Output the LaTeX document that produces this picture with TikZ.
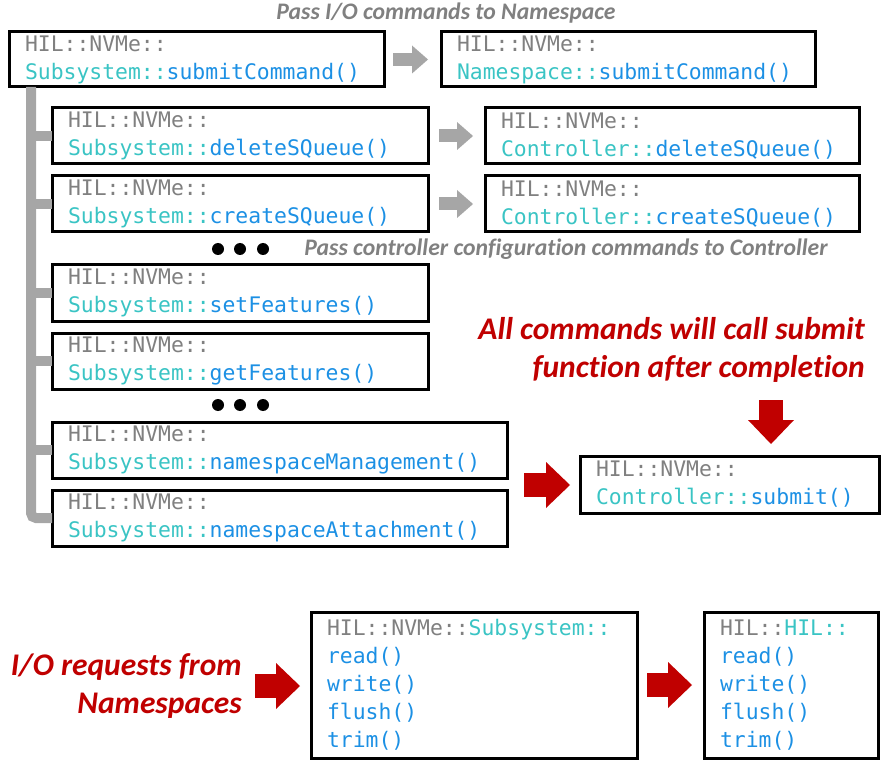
\documentclass[tikz,border=0pt]{standalone}
\usepackage{fontspec}
\setmonofont{DejaVu Sans Mono}
\newfontfamily\notefont[Ligatures=NoCommon]{Carlito}
\usepackage{tikz}
\usetikzlibrary{arrows.meta}
\definecolor{hilgray}{RGB}{128,128,128}
\definecolor{hilteal}{RGB}{58,196,196}
\definecolor{hilblue}{RGB}{28,144,228}
\definecolor{arrowgray}{RGB}{166,166,166}
\definecolor{hilred}{RGB}{192,0,0}
\newcommand{\nvmepre}{\textcolor{hilgray}{HIL::NVMe::}}
\newcommand{\clsname}[1]{\textcolor{hilteal}{#1::}}
\newcommand{\fnname}[1]{\textcolor{hilblue}{#1()}}

\begin{document}
\begin{tikzpicture}[
    x=1pt, y=-1pt,
    codebox/.style={draw, line width=3pt, anchor=north west, outer sep=0pt,
      inner xsep=16pt, inner ysep=0pt, align=left,
      font=\ttfamily\fontsize{21.4}{28}\selectfont},
    note/.style={inner sep=0pt, text=hilgray, font=\notefont\bfseries\itshape\fontsize{23.7}{28}\selectfont},
    rednote/.style={inner sep=0pt, align=right, text=hilred, font=\notefont\bfseries\itshape\fontsize{31.5}{38}\selectfont},
    grayarr/.style={draw=arrowgray, line width=13pt, -{Triangle[length=16pt,width=28pt,line width=0pt]}},
    redarr/.style={draw=hilred, line width=24pt, -{Triangle[length=24pt,width=46pt,line width=0pt]}},
    bar/.style={draw=arrowgray, line width=10pt, rounded corners=5pt}
    ]
    \useasboundingbox (0,0) rectangle (894,767);
    % commands passed to the namespace
    \node[note] (ionote) at (446,13) {Pass I/O commands to Namespace};
    \node[codebox, minimum width=375pt, minimum height=55pt, text width=343pt] (subcmd) at (9,32)
      {\nvmepre\\\clsname{Subsystem}\fnname{submitCommand}};
    \node[codebox, minimum width=374pt, minimum height=55pt, text width=342pt] (nscmd) at (441,32)
      {\nvmepre\\\clsname{Namespace}\fnname{submitCommand}};
    % subsystem handlers
    \node[codebox, minimum width=376pt, minimum height=56pt, text width=344pt] (subdel) at (52,108)
      {\nvmepre\\\clsname{Subsystem}\fnname{deleteSQueue}};
    \node[codebox, minimum width=376pt, minimum height=56pt, text width=344pt] (subcre) at (52,176)
      {\nvmepre\\\clsname{Subsystem}\fnname{createSQueue}};
    \node[codebox, minimum width=376pt, minimum height=56pt, text width=344pt] (subset) at (52,265)
      {\nvmepre\\\clsname{Subsystem}\fnname{setFeatures}};
    \node[codebox, minimum width=376pt, minimum height=56pt, text width=344pt] (subget) at (52,333)
      {\nvmepre\\\clsname{Subsystem}\fnname{getFeatures}};
    \node[codebox, minimum width=455pt, minimum height=56pt, text width=423pt] (submgmt) at (52,422)
      {\nvmepre\\\clsname{Subsystem}\fnname{namespaceManagement}};
    \node[codebox, minimum width=455pt, minimum height=56pt, text width=423pt] (subatt) at (52,490)
      {\nvmepre\\\clsname{Subsystem}\fnname{namespaceAttachment}};
    % controller handlers
    \node[codebox, minimum width=374pt, minimum height=56pt, text width=342pt] (ctldel) at (485,108)
      {\nvmepre\\\clsname{Controller}\fnname{deleteSQueue}};
    \node[codebox, minimum width=374pt, minimum height=56pt, text width=342pt] (ctlcre) at (485,176)
      {\nvmepre\\\clsname{Controller}\fnname{createSQueue}};
    \node[note] (ctlnote) at (566,249) {Pass controller configuration commands to Controller};
    \node[codebox, minimum width=299pt, minimum height=57pt, text width=267pt] (ctlsub) at (580,456)
      {\nvmepre\\\clsname{Controller}\fnname{submit}};
    \node[rednote, anchor=east] (subnote) at (865,350)
      {All commands will call submit\\function after completion};
    % I/O path
    \node[rednote, anchor=east] (ioreq) at (242,686) {I/O requests from\\Namespaces};
    \node[codebox, minimum width=326pt, minimum height=146pt, text width=294pt] (subio) at (311,612)
      {\nvmepre\clsname{Subsystem}\\\fnname{read}\\\fnname{write}\\\fnname{flush}\\\fnname{trim}};
    \node[codebox, minimum width=174pt, minimum height=146pt, text width=142pt] (hilio) at (704,612)
      {\textcolor{hilgray}{HIL::}\clsname{HIL}\\\fnname{read}\\\fnname{write}\\\fnname{flush}\\\fnname{trim}};
    % dots
    \foreach \dx in {218,240,263} {
      \fill (\dx,249) circle (6pt);
      \fill (\dx,405) circle (6pt);
    }
    % tree bar
    \coordinate (barx) at (31,0);
    \draw[bar] (barx |- subcmd.south) |- (subatt.west);
    \foreach \n in {subdel,subcre,subset,subget,submgmt}
      \draw[bar] (barx |- \n.west) -- (\n.west);
    % arrows
    \draw[grayarr, shorten <=9pt, shorten >=13pt] (subcmd) -- (nscmd);
    \draw[grayarr, shorten <=11pt, shorten >=12pt] (subdel) -- (ctldel);
    \draw[grayarr, shorten <=11pt, shorten >=12pt] (subcre) -- (ctlcre);
    \coordinate (mgmtout) at (524,485);
    \draw[redarr, shorten >=10pt] (mgmtout) -- (mgmtout -| ctlsub.west);
    \coordinate (notedrop) at (771,400);
    \draw[redarr, shorten >=12pt] (notedrop) -- (notedrop |- ctlsub.north);
    \draw[redarr, shorten <=13pt, shorten >=11pt] (ioreq.east) -- (ioreq.east -| subio.west);
    \draw[redarr, shorten <=10pt, shorten >=12pt] (subio) -- (hilio);
\end{tikzpicture}
\end{document}
